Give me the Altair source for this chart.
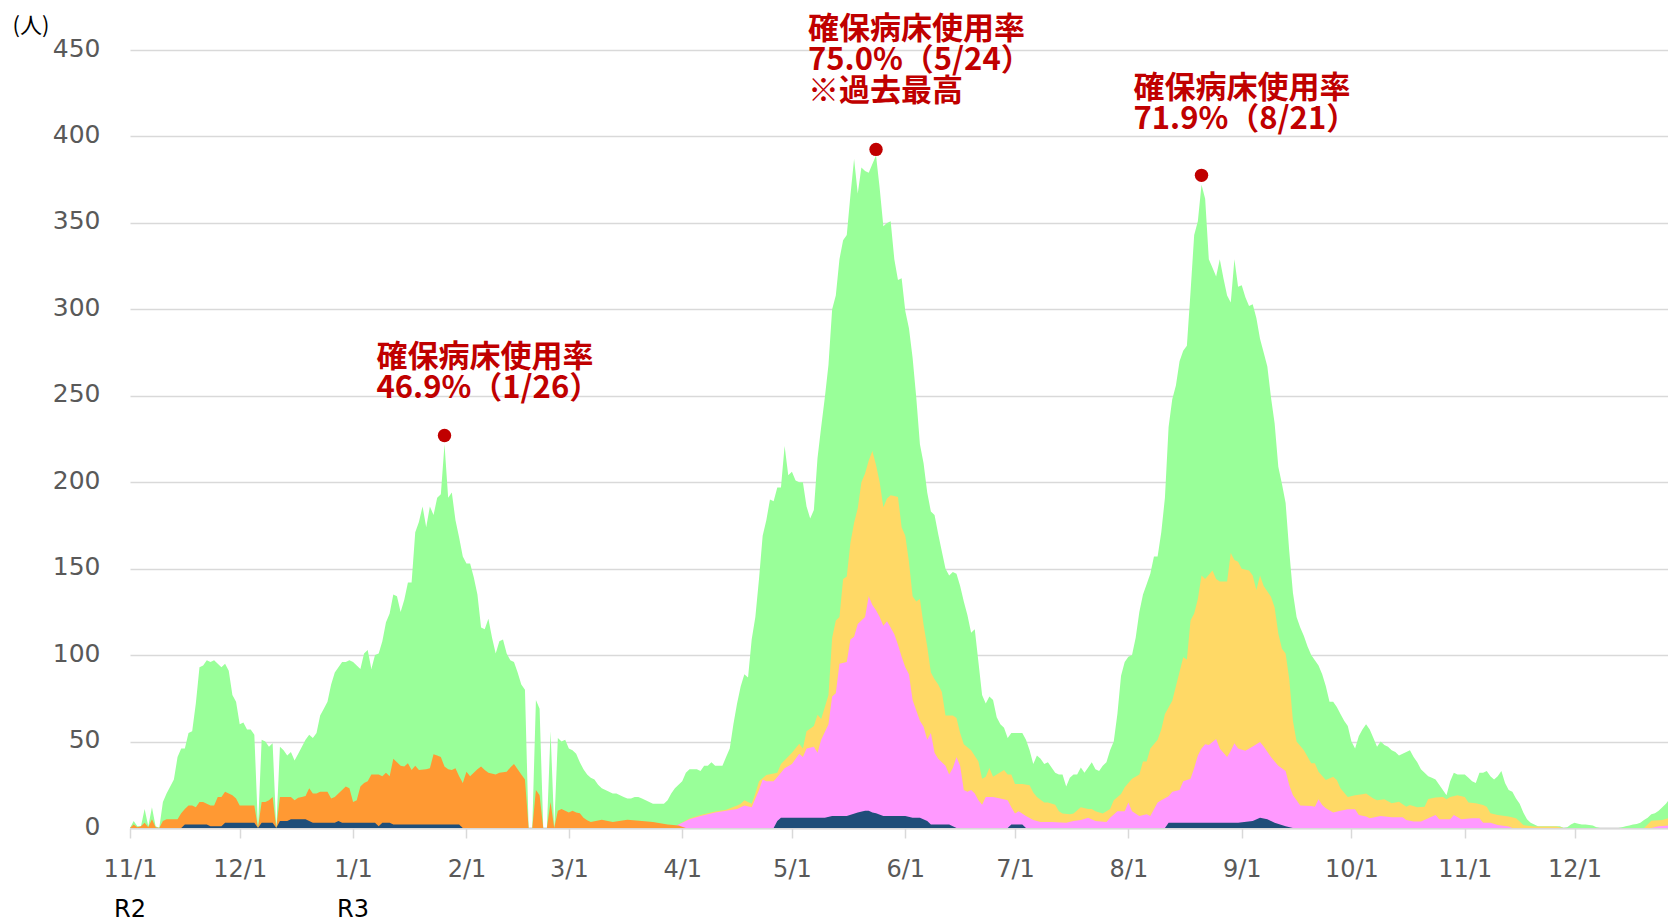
import altair as alt
import pandas as pd

START = "2020-11-01"

# total (top of green band), one value per day from START
green_vals = [
    0, 4, 1, 1, 11, 1, 12, 1, 0, 15, 20, 24, 28, 41, 46, 46, 55, 56, 72, 93,
    94, 97, 96, 97, 95, 93, 95, 91, 77, 73, 60, 61, 57, 57, 54, 0, 51, 50, 47, 49,
    0, 47, 45, 42, 44, 39, 43, 47, 51, 54, 52, 55, 65, 69, 73, 83, 90, 93, 96, 96,
    97, 96, 94, 92, 101, 103, 92, 100, 101, 108, 119, 124, 135, 134, 125, 132, 142, 142, 171, 177,
    186, 174, 186, 181, 191, 193, 222, 191, 194, 178, 168, 157, 153, 153, 145, 135, 116, 115, 121, 110,
    101, 108, 109, 101, 97, 96, 90, 83, 80, 0, 0, 74, 69, 0, 0, 56, 0, 52, 50, 51,
    46, 45, 43, 38, 34, 31, 29, 28, 25, 23, 22, 21, 20, 20, 19, 18, 17, 17, 18, 18,
    17, 16, 15, 14, 14, 14, 14, 16, 20, 23, 25, 27, 32, 34, 34, 34, 33, 36, 36, 38,
    36, 36, 36, 41, 46, 60, 72, 82, 89, 87, 109, 122, 144, 169, 178, 190, 189, 197, 197, 221,
    204, 206, 201, 200, 200, 186, 179, 184, 214, 232, 249, 268, 300, 308, 329, 340, 343, 366, 387, 367,
    382, 380, 379, 384, 389, 370, 348, 350, 351, 329, 317, 318, 299, 289, 272, 249, 222, 211, 194, 183,
    181, 170, 160, 150, 146, 148, 147, 140, 131, 123, 113, 115, 96, 77, 72, 76, 74, 64, 60, 58,
    52, 55, 55, 55, 55, 51, 45, 37, 42, 40, 37, 38, 35, 32, 31, 31, 24, 29, 31, 31,
    35, 32, 35, 38, 34, 33, 36, 38, 45, 50, 66, 88, 96, 99, 100, 110, 125, 135, 141, 147,
    157, 157, 171, 191, 232, 248, 256, 270, 276, 279, 310, 343, 351, 372, 364, 329, 324, 319, 329, 318,
    308, 304, 329, 313, 314, 307, 302, 303, 295, 283, 275, 267, 249, 234, 209, 199, 188, 160, 136, 122,
    116, 111, 105, 100, 97, 94, 89, 82, 73, 73, 70, 66, 62, 59, 50, 46, 53, 57, 60, 57,
    52, 47, 50, 48, 47, 45, 44, 42, 43, 44, 45, 41, 38, 34, 32, 30, 29, 28, 25, 22,
    19, 27, 32, 31, 31, 31, 29, 27, 26, 32, 32, 33, 30, 28, 30, 33, 26, 22, 21, 17,
    14, 9, 5, 3, 2, 1, 1, 1, 1, 1, 1, 1, 0, 0.5, 2, 3, 2.5, 2, 2, 1.7,
    1.5, 0.5, 0, 0, 0, 0, 0, 0, 0.5, 1, 1.5, 2, 2.3, 3, 4.6, 6, 8, 8.5, 10, 12,
    14, 17, 22,
]

# (day since START, top of band) readings for the lower bands
yellow = [
    (0, 0), (149, 0), (150, 2), (153, 5.5), (156, 7.5), (160, 9.5), (163, 10.5), (166, 13), (167, 14),
    (168, 16), (170, 14), (171, 20), (172, 27), (174, 30.6), (177, 32), (178, 37), (181, 43.5),
    (183, 48.7), (184, 46), (185, 56), (187, 59), (188, 65.5), (189, 63), (191, 77), (192, 110),
    (193, 120), (194, 122), (195, 144), (196, 145.5), (197, 165), (198, 176.5), (199, 185), (200, 200),
    (201, 205), (202, 212.6), (203, 218), (204, 210), (205, 200), (206, 185.5), (207, 190.6),
    (208, 192.5), (209, 192), (210, 191.5), (211, 174), (212, 169), (213, 154), (214, 134), (215, 131),
    (216, 132.5), (217, 117.5), (218, 105), (219, 90), (220, 86), (221, 83), (222, 78.6), (223, 65),
    (225, 65), (226, 63.6), (227, 55), (228, 48.5), (230, 45), (232, 38.5), (233, 28.5), (234, 29.7),
    (235, 34.7), (236, 29.7), (237, 31), (239, 33.5), (240, 31), (241, 31), (242, 25.5), (244, 25.5),
    (246, 24.7), (247, 20.5), (248, 18), (250, 14.7), (251, 14.7), (253, 13.4), (254, 9.7), (255, 8.4),
    (257, 8), (258, 8.4), (260, 12), (262, 11), (263, 11), (264, 9.7), (266, 8.4), (268, 11), (269, 16),
    (271, 19.7), (272, 23.5), (274, 28.5), (276, 31), (277, 38.5), (278, 38.5), (279, 46), (281, 51),
    (282, 57), (283, 66), (285, 73.6), (286, 82), (288, 98.7), (289, 97.5), (290, 120), (291, 124),
    (292, 132.5), (293, 146), (294, 144), (296, 149), (297, 144), (298, 142.6), (300, 142.6), (301, 159),
    (302, 155), (303, 154), (304, 150), (306, 149), (307, 146), (308, 137.6), (309, 146), (310, 140),
    (312, 133.8), (313, 127.5), (314, 112.5), (315, 103.7), (316, 101), (317, 86), (318, 62), (319, 50),
    (321, 45), (323, 37.4), (324, 37.4), (325, 32.6), (327, 27.8), (329, 29.7), (330, 27.8), (331, 23),
    (333, 18), (335, 19), (337, 19.5), (338, 20), (340, 17), (341, 16), (343, 16.6), (345, 14.3),
    (347, 15.2), (349, 12.3), (350, 13.3), (352, 12), (354, 12.3), (355, 16.8), (357, 17.7), (359, 18),
    (360, 16.6), (361, 18), (363, 19), (365, 18), (366, 14.7), (368, 14.3), (370, 13.3), (371, 12.3),
    (372, 8.5), (374, 7.5), (377, 6.6), (379, 5.6), (380, 3.7), (381, 1.7), (384, 0.8), (390, 0.8),
    (392, 0), (414, 0), (415, 2), (416, 4.2), (419, 4.6), (421, 6), (423, 7),
]

pink = [
    (0, 0), (148, 0), (150, 2), (153, 5), (156, 7), (160, 9), (163, 10), (166, 11), (168, 13), (170, 12),
    (172, 22), (173, 28), (174, 27), (176, 27), (178, 32), (179, 34.5), (181, 37), (183, 43), (184, 41),
    (185, 46), (187, 47), (188, 43.5), (189, 51), (191, 60), (192, 76), (193, 78), (194, 95), (196, 96),
    (197, 109), (198, 110.6), (199, 118), (200, 120), (201, 122), (202, 134), (203, 129), (204, 126),
    (205, 122), (206, 117), (207, 119.6), (208, 116), (209, 112), (210, 106), (211, 99), (212, 93),
    (213, 89), (214, 74), (215, 68), (216, 62), (217, 58.5), (218, 51), (219, 55), (220, 43.5), (221, 40),
    (222, 38), (223, 36), (224, 31), (225, 34.7), (226, 41), (227, 36), (228, 22), (229, 21), (230, 22),
    (231, 20), (232, 16), (233, 13.4), (234, 18), (236, 18), (238, 17), (240, 16), (241, 12), (242, 8.4),
    (243, 9.7), (245, 7), (247, 4.6), (249, 3.4), (252, 3.4), (256, 3), (258, 4), (260, 4.6), (262, 6),
    (264, 4), (267, 3.4), (268, 6), (270, 9.7), (272, 9.7), (273, 14.7), (274, 9.7), (276, 7), (278, 8),
    (279, 7), (281, 14.7), (282, 16), (284, 18.4), (285, 21), (287, 22), (288, 27), (290, 28.5),
    (291, 34.7), (292, 42), (293, 46), (294, 48.5), (295, 48), (297, 51.5), (298, 46), (300, 41),
    (301, 44.7), (302, 49), (303, 46), (305, 44.7), (307, 47.2), (309, 49.8), (310, 47.2), (312, 41),
    (313, 38.5), (314, 36), (316, 33), (317, 24.7), (318, 19), (319, 16), (320, 13), (323, 12.7),
    (324, 12.3), (325, 16.6), (326, 13.3), (327, 11.4), (329, 8.9), (331, 10), (333, 10.8), (335, 10.8),
    (336, 7.5), (338, 6.6), (339, 5.6), (342, 6.9), (345, 6.2), (348, 6.2), (349, 4.6), (351, 3.7),
    (353, 3.7), (355, 5.6), (357, 7.5), (358, 5), (361, 5), (362, 7.5), (364, 5), (367, 5.6), (369, 5.6),
    (370, 3), (372, 3), (374, 1.7), (377, 0.8), (378, 0), (416, 0), (418, 1), (420, 1.3), (423, 2),
]

orange = [
    (0, 0), (1, 2), (2, 0.5), (3, 1), (4, 3), (5, 0.5), (6, 5), (7, 0.5), (8, 0), (9, 4), (10, 5), (13, 5),
    (14, 8.5), (15, 11), (16, 13), (17, 13), (18, 12), (19, 15), (20, 15), (21, 14), (22, 13), (23, 13),
    (24, 18), (25, 18), (26, 21), (27, 20), (28, 19), (29, 17), (30, 13), (34, 13), (35, 0), (36, 15),
    (37, 15), (38, 16), (39, 18), (40, 0), (41, 18), (44, 18), (45, 16), (46, 17.5), (47, 18), (48, 18.5),
    (49, 23), (50, 20), (51, 20), (52, 21), (54, 21), (55, 17), (56, 18), (57, 20), (58, 22), (59, 24),
    (60, 23), (61, 15), (62, 16), (63, 24), (64, 26), (65, 27), (66, 31), (68, 31), (69, 30), (70, 32),
    (71, 30), (72, 40), (73, 38), (74, 36), (75, 35.5), (76, 37.5), (77, 33.5), (78, 36), (79, 33.5),
    (81, 34), (82, 34.5), (83, 42.6), (84, 42), (85, 41), (86, 35.5), (87, 34), (88, 33.5), (89, 34.5),
    (90, 30), (91, 26), (92, 32.6), (93, 30), (94, 32), (95, 34), (96, 35.5), (97, 33.5), (98, 32),
    (100, 31), (101, 32), (103, 32.6), (104, 35), (105, 37), (106, 34), (107, 31), (108, 28), (109, 0),
    (110, 0), (111, 22), (112, 19), (113, 0), (114, 0), (115, 15), (116, 0), (117, 10), (118, 11),
    (119, 10), (120, 9), (121, 10), (122, 9), (123, 8.6), (124, 6), (125, 4.5), (126, 3.5), (129, 4.8),
    (132, 3.5), (136, 4.8), (140, 4), (143, 3.5), (147, 2), (150, 1.5), (152, 0), (423, 0),
]

navy = [
    (0, 0), (14, 0), (15, 2), (21, 2), (22, 1), (25, 1), (26, 3), (34, 3), (35, 0), (36, 3), (39, 3),
    (40, 0), (41, 4), (43, 4), (44, 5), (48, 5), (50, 3), (56, 3), (57, 4), (58, 3), (67, 3), (68, 1),
    (69, 3), (71, 3), (72, 2), (90, 2), (91, 0), (176, 0), (177, 4), (178, 6), (190, 6), (192, 7),
    (196, 7), (199, 9), (201, 10), (202, 10), (203, 9), (204, 8.6), (206, 7), (212, 7), (214, 6),
    (216, 6), (218, 4), (219, 2), (224, 2), (226, 0), (240, 0), (241, 2), (244, 2), (245, 0), (283, 0),
    (284, 3), (303, 3), (307, 4), (309, 6), (311, 5), (313, 3), (316, 1), (318, 0), (423, 0),
]

# peak annotations
ann_dates = ["2021-01-26", "2021-05-24", "2021-08-21"]
ann_values = [227, 392.5, 377.5]
ann_lines = [
    ["確保病床使用率", "46.9%（1/26）"],
    ["確保病床使用率", "75.0%（5/24）", "※過去最高"],
    ["確保病床使用率", "71.9%（8/21）"],
]

# era labels under the axis
era_dates = ["2020-11-01", "2021-01-01"]
era_labels = ["R2", "R3"]

tick_months = [(2020, 11), (2020, 12)] + [(2021, m) for m in range(1, 13)]
y_ticks = [0, 50, 100, 150, 200, 250, 300, 350, 400, 450]

# ---------------------------------------------------------------- styling
W, H = 1538, 778
ANN_DY = [-93, -134, -101]
COLORS = {"green": "#99FF99", "yellow": "#FFD966", "pink": "#FF99FF",
          "orange": "#FF9933", "navy": "#1F4E79"}
RED = "#C00000"
GRID = "#D9D9D9"


def to_dates(days):
    idx = pd.Timestamp(START) + pd.to_timedelta(list(days), unit="D")
    return list(idx.strftime("%Y-%m-%d"))


def pairs_frame(pairs):
    days = [p[0] for p in pairs]
    vals = [p[1] for p in pairs]
    return pd.DataFrame({"date": to_dates(days), "value": vals})


green_df = pd.DataFrame({"date": to_dates(range(len(green_vals))), "value": green_vals})

x_scale = alt.Scale(
    type="utc",
    domain=[alt.DateTime(year=2020, month=11, date=1, utc=True),
            alt.DateTime(year=2021, month=12, date=26, hours=13, minutes=30, utc=True)],
)
y_scale = alt.Scale(domain=[0, 450], nice=False, zero=True)

x_axis = alt.Axis(
    values=[alt.DateTime(year=y, month=m, date=1, utc=True) for y, m in tick_months],
    labelExpr="utcFormat(datum.value, '%-m/%-d')",
    grid=False, domainColor=GRID, domainWidth=2,
    tickColor=GRID, tickSize=10, tickWidth=1.5,
    labelColor="#595959", labelFont="DejaVu Sans", labelFontSize=24,
    labelPadding=19, labelAngle=0, labelFlush=False, labelOverlap=False, title=None,
)
y_axis = alt.Axis(
    values=y_ticks, grid=True, gridColor=GRID, gridWidth=1.5,
    domain=False, ticks=False, tickSize=0,
    labelColor="#595959", labelFont="DejaVu Sans", labelFontSize=25,
    labelPadding=30, labelOffset=-2,
    title="(人)", titleAngle=0, titleX=-118, titleY=-35, titleAlign="left",
    titleBaseline="top", titleFont="Noto Sans CJK JP", titleFontSize=22,
    titleFontWeight="normal", titleColor="#000000",
)

X = alt.X("date:T", scale=x_scale, axis=x_axis)
Y = alt.Y("value:Q", scale=y_scale, axis=y_axis, stack=None)


def band(df, color):
    return alt.Chart(df).mark_area(color=color, opacity=1, interpolate="linear", clip=True).encode(
        x=X, y=Y)


layers = [
    band(green_df, COLORS["green"]),
    band(pairs_frame(yellow), COLORS["yellow"]),
    band(pairs_frame(pink), COLORS["pink"]),
    band(pairs_frame(orange), COLORS["orange"]),
    band(pairs_frame(navy), COLORS["navy"]),
]

ann_df = pd.DataFrame({"date": ann_dates, "value": ann_values})
layers.append(
    alt.Chart(ann_df).mark_circle(size=180, color=RED, opacity=1).encode(x=X, y=Y)
)

for i in range(len(ann_dates)):
    one = pd.DataFrame({"date": [ann_dates[i]], "value": [ann_values[i]],
                        "label": ["\n".join(ann_lines[i])]})
    layers.append(
        alt.Chart(one).mark_text(
            align="left", baseline="top", dx=-68, dy=ANN_DY[i], lineBreak="\n",
            font="Noto Sans CJK JP", fontSize=31, fontWeight="bold", color=RED, lineHeight=31,
        ).encode(x=X, y=Y, text="label:N")
    )

era_df = pd.DataFrame({"date": era_dates, "label": era_labels})
layers.append(
    alt.Chart(era_df).mark_text(
        align="center", baseline="alphabetic", font="DejaVu Sans", fontSize=24, color="#000000",
    ).encode(x=X, y=alt.value(H + 89), text="label:N")
)

chart = alt.layer(*layers).properties(
    width=W, height=H,
    padding={"left": 122, "top": 42, "right": 0, "bottom": 100},
    autosize=alt.AutoSizeParams(type="none"),
).configure_view(stroke=None)

chart.save("out.html", embed_options={"renderer": "svg", "actions": False})
